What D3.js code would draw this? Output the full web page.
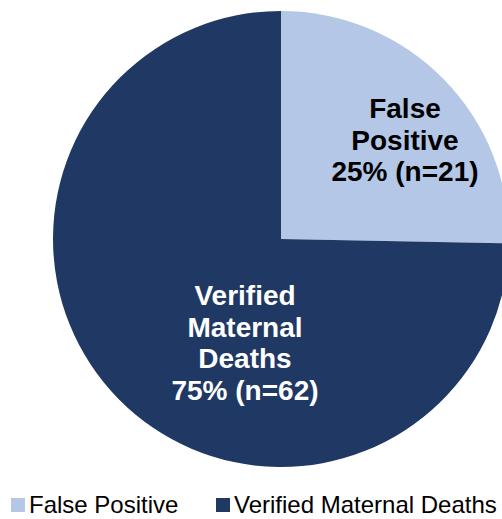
<!DOCTYPE html>
<html>
<head>
<meta charset="utf-8">
<script src="https://cdn.jsdelivr.net/npm/d3@7"></script>
<style>
  body { margin: 0; background: #fff; }
  svg { font-family: "Liberation Sans", Arial, sans-serif; }
</style>
</head>
<body>
<div id="chart"></div>
<script>
    // data
    const categories = ["False Positive", "Verified Maternal Deaths"];
    const counts = [21, 62];
    const percents = ["25%", "75%"];
    const labelLines = [["False", "Positive"], ["Verified", "Maternal", "Deaths"]];
    const colors = ["#B4C7E7", "#203864"];

    const width = 502, height = 519;
    const cx = 281, cy = 239, radius = 228;

    const svg = d3.select("#chart").append("svg")
        .attr("width", width)
        .attr("height", height);

    const pie = d3.pie().sort(null).value(d => d);
    const arc = d3.arc().innerRadius(0).outerRadius(radius);

    const g = svg.append("g").attr("transform", `translate(${cx},${cy})`);

    const arcs = pie(counts);

    g.selectAll("path")
        .data(arcs)
        .enter().append("path")
        .attr("d", arc)
        .attr("fill", (d, i) => colors[i]);

    // slice labels: x offset and first baseline, relative to the pie centre
    const labelPos = [[124, -121], [-36, 66]];
    const lh = 31.6;

    arcs.forEach((a, i) => {
        const lines = labelLines[i].concat([`${percents[i]} (n=${counts[i]})`]);
        const t = g.append("text")
            .attr("text-anchor", "middle")
            .attr("font-weight", "bold")
            .attr("font-size", "28px")
            .attr("fill", i === 0 ? "#000" : "#fff");
        lines.forEach((l, j) => {
            t.append("tspan")
                .attr("x", labelPos[i][0])
                .attr("y", labelPos[i][1] + j * lh)
                .text(l);
        });
    });

    // legend
    const legendX = [11, 216];
    const legend = svg.append("g").attr("transform", "translate(0,498)");
    categories.forEach((c, i) => {
        legend.append("rect")
            .attr("x", legendX[i])
            .attr("y", 0)
            .attr("width", 14)
            .attr("height", 14)
            .attr("fill", colors[i]);
        legend.append("text")
            .attr("x", legendX[i] + 18)
            .attr("y", 15)
            .attr("font-size", "24px")
            .attr("fill", "#000")
            .text(c);
    });
</script>
</body>
</html>
